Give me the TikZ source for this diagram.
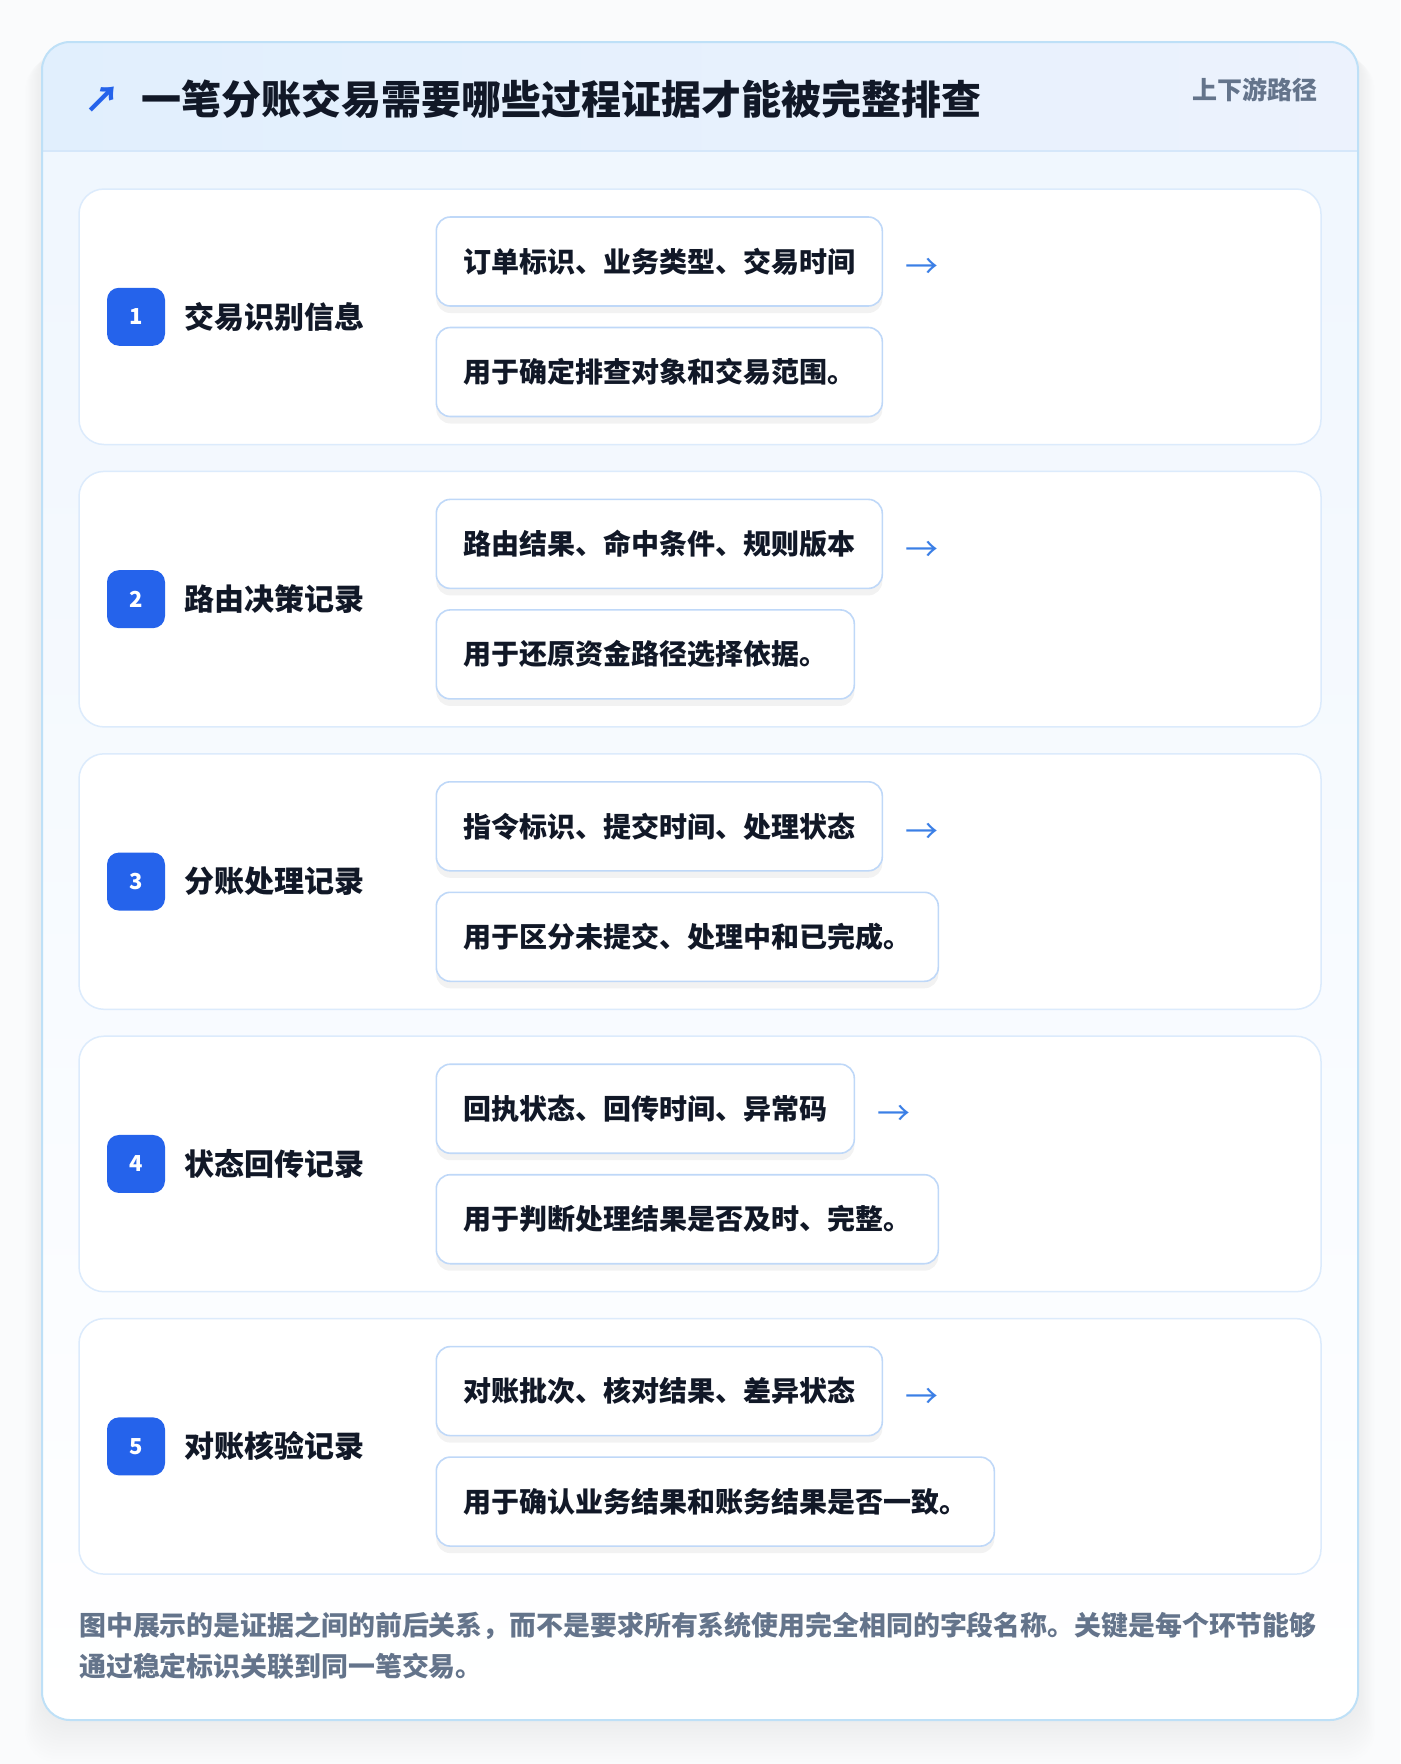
\documentclass[tikz,border=0pt]{standalone}
\usepackage{fontspec}
\setmainfont{Noto Sans CJK SC}
\usetikzlibrary{positioning,shadows}

\definecolor{inkdark}{HTML}{111827}
\definecolor{inkgray}{HTML}{64748B}
\definecolor{badgeblue}{HTML}{2563EB}
\definecolor{arrowblue}{HTML}{3B7FE6}
\definecolor{fieldline}{HTML}{BFD8F8}
\definecolor{rowline}{HTML}{DCEBFC}
\definecolor{cardline}{HTML}{BEE0F7}
\definecolor{cardtop}{HTML}{EFF6FE}
\definecolor{headleft}{HTML}{E1EFFD}
\definecolor{headright}{HTML}{ECF2FD}
\definecolor{headline}{HTML}{D5E7FA}
\definecolor{pagebg}{HTML}{FAFBFC}

\begin{document}
\begin{tikzpicture}[x=1pt,y=-1pt,
  fieldbox/.style={draw=fieldline,line width=1.6pt,fill=white,rounded corners=14pt,
    minimum height=89pt,inner xsep=27pt,inner ysep=0pt,anchor=west,text=inkdark,
    font=\fontsize{28}{28}\selectfont\bfseries,
    drop shadow={shadow xshift=0pt,shadow yshift=-7pt,opacity=0.05,fill=black}},
  badgebox/.style={fill=badgeblue,rounded corners=12pt,minimum size=58pt,inner sep=0pt,
    text=white,font=\fontsize{22}{22}\selectfont\bfseries},
  steplabel/.style={anchor=west,inner sep=0pt,text=inkdark,font=\fontsize{30}{30}\selectfont\bfseries},
  nextarrow/.style={inner sep=0pt,text=arrowblue,yshift=-7pt,font=\fontsize{33}{33}\selectfont},
  rowcard/.style={draw=rowline,line width=1.5pt,fill=white,rounded corners=25pt,
    minimum width=1242pt,minimum height=255.5pt,inner sep=0pt}]
\useasboundingbox (0,0) rectangle (1400,1764);
\fill[pagebg] (0,0) rectangle (1400,1764);

% soft shadow of the card
\foreach \s in {1,...,14}
  \fill[black,opacity=0.004,rounded corners=30pt] (42-\s*1.2,42+\s*1.2) rectangle (1358+\s*1.2,1720+\s*3);

% card body and header band
\begin{scope}
\clip[rounded corners=28pt] (42,42) rectangle (1358,1720);
\shade[top color=cardtop,bottom color=white] (42,42) rectangle (1358,1720);
\shade[left color=headleft,right color=headright] (42,42) rectangle (1358,151);
\end{scope}
\draw[headline,line width=1.5pt] (43,151) -- (1357,151);
\draw[cardline,line width=2pt,rounded corners=28pt] (42,42) rectangle (1358,1720);

% header
\node[inner sep=0pt,text=badgeblue,font=\fontsize{36}{36}\selectfont\bfseries] (icon) at (102,100) {↗};
\node[anchor=west,inner sep=0pt,text=inkdark,font=\fontsize{40}{40}\selectfont\bfseries] (title) at (141,99) {一笔分账交易需要哪些过程证据才能被完整排查};
\node[anchor=east,inner sep=0pt,text=inkgray,font=\fontsize{25}{25}\selectfont\bfseries] (tag) at (1318,90) {上下游路径};

% row 1
\node[rowcard] (row1) at (700,316.75) {};
\node[badgebox] (b1) at (136,316.75) {1};
\node[steplabel] (l1) at (184.6,316.75) {交易识别信息};
\node[fieldbox] (f1a) at (435.5,261.5) {订单标识、业务类型、交易时间};
\node[fieldbox] (f1b) at (435.5,372) {用于确定排查对象和交易范围。};
\node[nextarrow,right=22pt of f1a] (n1) {→};

% row 2
\node[rowcard] (row2) at (700,599.15) {};
\node[badgebox] (b2) at (136,599.15) {2};
\node[steplabel] (l2) at (184.6,599.15) {路由决策记录};
\node[fieldbox] (f2a) at (435.5,543.9) {路由结果、命中条件、规则版本};
\node[fieldbox] (f2b) at (435.5,654.4) {用于还原资金路径选择依据。};
\node[nextarrow,right=22pt of f2a] (n2) {→};

% row 3
\node[rowcard] (row3) at (700,881.55) {};
\node[badgebox] (b3) at (136,881.55) {3};
\node[steplabel] (l3) at (184.6,881.55) {分账处理记录};
\node[fieldbox] (f3a) at (435.5,826.3) {指令标识、提交时间、处理状态};
\node[fieldbox] (f3b) at (435.5,936.8) {用于区分未提交、处理中和已完成。};
\node[nextarrow,right=22pt of f3a] (n3) {→};

% row 4
\node[rowcard] (row4) at (700,1163.95) {};
\node[badgebox] (b4) at (136,1163.95) {4};
\node[steplabel] (l4) at (184.6,1163.95) {状态回传记录};
\node[fieldbox] (f4a) at (435.5,1108.7) {回执状态、回传时间、异常码};
\node[fieldbox] (f4b) at (435.5,1219.2) {用于判断处理结果是否及时、完整。};
\node[nextarrow,right=22pt of f4a] (n4) {→};

% row 5
\node[rowcard] (row5) at (700,1446.35) {};
\node[badgebox] (b5) at (136,1446.35) {5};
\node[steplabel] (l5) at (184.6,1446.35) {对账核验记录};
\node[fieldbox] (f5a) at (435.5,1391.1) {对账批次、核对结果、差异状态};
\node[fieldbox] (f5b) at (435.5,1501.6) {用于确认业务结果和账务结果是否一致。};
\node[nextarrow,right=22pt of f5a] (n5) {→};

% footer note
\node[anchor=north west,inner sep=0pt,align=left,text=inkgray,font=\fontsize{26.9}{40.5}\selectfont\bfseries] (note) at (79,1612) {图中展示的是证据之间的前后关系，而不是要求所有系统使用完全相同的字段名称。关键是每个环节能够\\通过稳定标识关联到同一笔交易。};
\end{tikzpicture}
\end{document}
